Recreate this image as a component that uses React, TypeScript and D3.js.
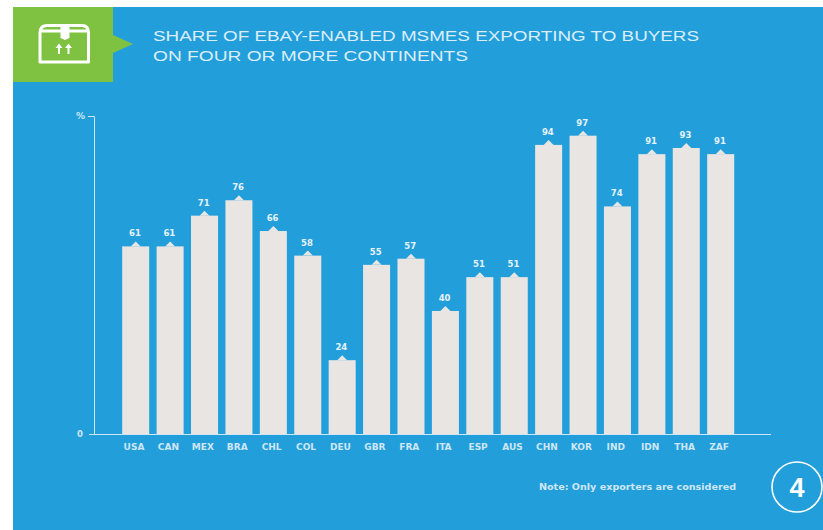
import React from "react";
import * as d3 from "d3";

const categories = ["USA","CAN","MEX","BRA","CHL","COL","DEU","GBR","FRA","ITA","ESP","AUS","CHN","KOR","IND","IDN","THA","ZAF"];
const values = [61,61,71,76,66,58,24,55,57,40,51,51,94,97,74,91,93,91];
const titleLines = ["SHARE OF EBAY-ENABLED MSMES EXPORTING TO BUYERS","ON FOUR OR MORE CONTINENTS"];
const yTicks = [0];
const yMax = 103.4;
const note = "Note: Only exporters are considered";
const BLUE = "#229fdb";
const GREEN = "#7fc241";
const BAR = "#e9e5e3";
const TXT = "#cfe6f4";
const FONT = "'DejaVu Sans', 'Liberation Sans', sans-serif";

export default function App() {
  const x = d3.scaleBand<string>().domain(categories).range([118.5, 737.9]).paddingInner(0.215).paddingOuter(0.1075);
  const y = d3.scaleLinear().domain([0, yMax]).range([434, 116]);
  return (
    <svg width={823} height={530} style={{ position: "fixed", left: 0, top: 0, background: "#fff", display: "block" }} fontFamily={FONT}>
      <rect x={13} y={7} width={810} height={523} fill={BLUE} />
      <rect x={13} y={7} width={100} height={75} fill={GREEN} />
      <path d="M113,35L133,44L113,53Z" fill={GREEN} />
      <g fill="none" stroke="#fff" strokeWidth={3} strokeLinejoin="round">
        <path d="M40,62V33Q40,25.5 47,25.5H82Q88.5,25.5 88.5,33V62Z" />
        <path d="M40,31H61M69,31H88.5" />
      </g>
      <path d="M60.5,25H69.5V38L65,40L60.5,38Z" fill="#fff" />
      <g fill="none" stroke="#fff" strokeWidth={2}>
        <path d="M59,54V47M68.5,54V47" />
      </g>
      <path d="M55.5,48L59,43.5L62.5,48ZM65,48L68.5,43.5L72,48Z" fill="#fff" />
      {titleLines.map((t, i) => (
        <text key={t} x={153} y={41 + i * 20} fontSize={15.5} fill="#dcedf8" fontFamily="'Liberation Sans', sans-serif"
          textLength={i === 0 ? 546 : 315} lengthAdjust="spacingAndGlyphs">{t}</text>
      ))}
      <path d={`M88,116.5H94.5V434`} fill="none" stroke={TXT} strokeWidth={1} />
      <line x1={89} x2={771} y1={434.5} y2={434.5} stroke={TXT} strokeWidth={1} />
      <text x={85} y={119} textAnchor="end" fontSize={9} fontWeight={700} fill={TXT}>%</text>
      {yTicks.map((t) => (
        <text key={t} x={83} y={y(t) + 3} textAnchor="end" fontSize={8.5} fontWeight={700} fill={TXT}>{t}</text>
      ))}
      {categories.map((c, i) => {
        const bx = x(c)!;
        const cx = bx + x.bandwidth() / 2;
        const top = y(values[i]);
        return (
          <g key={c}>
            <rect x={bx} y={top} width={x.bandwidth()} height={434 - top} fill={BAR} />
            <path d={`M${cx - 5},${top}L${cx},${top - 5}L${cx + 5},${top}Z`} fill={BAR} />
            <text x={cx - 0.8} y={top - 10} textAnchor="middle" fontSize={8.5} fontWeight={700} fill="#e6f2fa">{values[i]}</text>
            <text x={cx - 1.7} y={450} textAnchor="middle" fontSize={9} fontWeight={700} fill={TXT}>{c}</text>
          </g>
        );
      })}
      <text x={539} y={490} fontSize={9} fontWeight={700} fill={TXT} textLength={197} lengthAdjust="spacingAndGlyphs">{note}</text>
      <circle cx={797} cy={487} r={25} fill="none" stroke="#fff" strokeWidth={1.6} />
      <text x={797} y={497} textAnchor="middle" fontSize={27} fontWeight={700} fill="#fff" fontFamily="'Liberation Sans', sans-serif">4</text>
    </svg>
  );
}
